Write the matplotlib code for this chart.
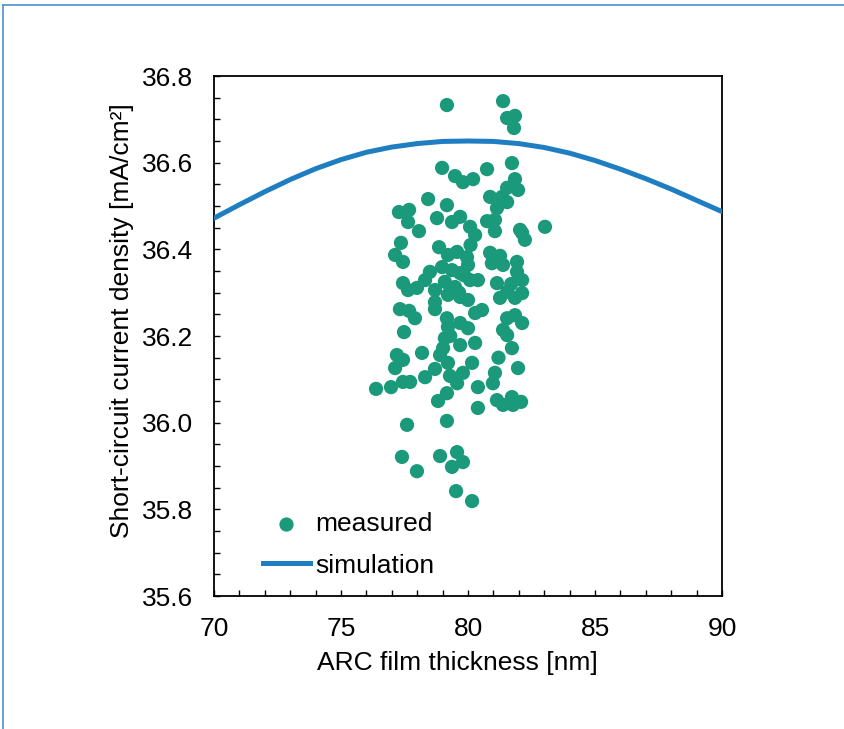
import numpy as np
import matplotlib
matplotlib.use('Agg')
import matplotlib.pyplot as plt
from matplotlib.lines import Line2D
from matplotlib.ticker import MultipleLocator

plt.rcParams['font.family'] = ['Liberation Sans', 'DejaVu Sans']

# measured cells: film thickness [nm] / Jsc [mA/cm2]
thick = [79.17, 81.38, 81.54, 81.85, 81.81, 78.98, 79.49, 79.80, 80.20, 80.75,
         81.73, 81.85, 81.97, 81.54, 81.34, 80.87, 81.14, 81.54, 78.43, 77.28,
         77.68, 77.64, 79.17, 78.78, 79.69, 80.75, 81.06, 82.05, 83.03, 80.08,
         78.07, 80.28, 81.06, 82.13, 82.24, 77.36, 77.13, 77.44, 78.86, 79.21,
         79.57, 79.96, 80.00, 80.87, 81.26, 80.94, 81.38, 81.93, 81.93, 82.13,
         78.50, 78.98, 79.37, 79.69, 78.31, 77.44, 77.64, 77.99, 78.70, 79.09,
         79.49, 80.08, 80.39, 81.14, 81.54, 81.26, 81.85, 82.13, 78.70, 79.21,
         79.69, 80.00, 78.70, 77.32, 77.68, 77.91, 80.28, 79.17, 79.69, 80.00,
         79.21, 81.54, 81.85, 82.13, 81.38, 81.54, 77.48, 79.09, 80.28, 79.69,
         79.02, 81.73, 77.20, 78.19, 78.90, 77.44, 79.21, 80.16, 77.13, 78.70,
         78.31, 79.29, 79.57, 79.80, 81.06, 80.98, 81.97, 76.38, 76.97, 77.44,
         77.72, 80.39, 79.17, 78.82, 80.39, 81.14, 81.38, 81.73, 81.77, 82.09,
         77.60, 79.17, 77.40, 77.99, 78.90, 79.57, 79.80, 79.37, 79.53, 80.16,
         79.37, 79.65, 80.55, 79.85, 81.70, 80.10, 79.30, 81.20]
jsc = [36.733, 36.742, 36.703, 36.708, 36.680, 36.588, 36.569, 36.555, 36.562, 36.585,
       36.599, 36.562, 36.537, 36.542, 36.521, 36.521, 36.495, 36.509, 36.516, 36.486,
       36.491, 36.463, 36.502, 36.472, 36.475, 36.465, 36.468, 36.445, 36.452, 36.452,
       36.442, 36.433, 36.442, 36.438, 36.422, 36.415, 36.387, 36.371, 36.405, 36.387,
       36.394, 36.382, 36.364, 36.392, 36.385, 36.368, 36.364, 36.371, 36.348, 36.329,
       36.348, 36.359, 36.352, 36.345, 36.329, 36.322, 36.306, 36.311, 36.306, 36.325,
       36.313, 36.329, 36.329, 36.322, 36.302, 36.288, 36.288, 36.299, 36.278, 36.295,
       36.290, 36.283, 36.262, 36.262, 36.258, 36.241, 36.253, 36.241, 36.230, 36.218,
       36.221, 36.241, 36.248, 36.230, 36.214, 36.202, 36.209, 36.195, 36.184, 36.179,
       36.172, 36.172, 36.156, 36.161, 36.156, 36.145, 36.138, 36.138, 36.126, 36.124,
       36.105, 36.108, 36.091, 36.115, 36.115, 36.091, 36.126, 36.078, 36.082, 36.094,
       36.094, 36.082, 36.068, 36.050, 36.034, 36.052, 36.041, 36.059, 36.041, 36.048,
       35.995, 36.004, 35.921, 35.888, 35.923, 35.932, 35.909, 35.898, 35.842, 35.819,
       36.463, 36.300, 36.260, 36.340, 36.320, 36.410, 36.200, 36.150]

# simulated Jsc vs thickness
sim_x = [70, 71, 72, 73, 74, 75, 76, 77, 78, 79, 80,
         81, 82, 83, 84, 85, 86, 87, 88, 89, 90]
sim_y = [36.472, 36.503, 36.533, 36.561, 36.586, 36.607, 36.624, 36.636, 36.644, 36.649, 36.650,
         36.649, 36.644, 36.635, 36.622, 36.605, 36.585, 36.563, 36.539, 36.513, 36.487]

fig = plt.figure(figsize=(8.45, 7.29), dpi=100)
ax = fig.add_axes([214 / 845, 1 - 596 / 729, 508 / 845, 520 / 729])

ax.scatter(thick, jsc, s=105, color='#1a9a7a', edgecolors='none', label='measured', zorder=2)
ax.plot(sim_x, sim_y, color='#1f7ec1', lw=3.6, label='simulation', zorder=3)

ax.set_xlim(70, 90)
ax.set_ylim(35.6, 36.8)
ax.xaxis.set_major_locator(MultipleLocator(5))
ax.xaxis.set_minor_locator(MultipleLocator(1))
ax.yaxis.set_major_locator(MultipleLocator(0.2))
ax.yaxis.set_minor_locator(MultipleLocator(0.05))
ax.yaxis.set_major_formatter(matplotlib.ticker.FormatStrFormatter('%.1f'))
ax.tick_params(which='both', direction='in', length=4, width=1, labelsize=19)
ax.tick_params(axis='x', pad=15)
ax.tick_params(axis='y', pad=15)
for sp in ax.spines.values():
    sp.set_linewidth(1.3)

ax.set_xlabel('ARC film thickness [nm]', fontsize=19)
ax.set_ylabel('Short-circuit current density [mA/cm²]', fontsize=19)
ax.xaxis.set_label_coords(0.48, -0.105)
ax.yaxis.set_label_coords(-0.157, 0.53)

leg = ax.legend(loc='lower left', bbox_to_anchor=(0.07, 0.01), frameon=False, fontsize=19,
                handlelength=1.8, handletextpad=0.2, labelspacing=0.65, borderpad=0)

# outer frame line (top and left edges only)
fcol = '#4a90d0'
fig.add_artist(Line2D([3 / 845, 1], [1 - 5 / 729, 1 - 5 / 729], transform=fig.transFigure, color=fcol, lw=1.2))
fig.add_artist(Line2D([3 / 845, 3 / 845], [0, 1 - 5 / 729], transform=fig.transFigure, color=fcol, lw=1.2))

fig.savefig('out.png', dpi=100)
